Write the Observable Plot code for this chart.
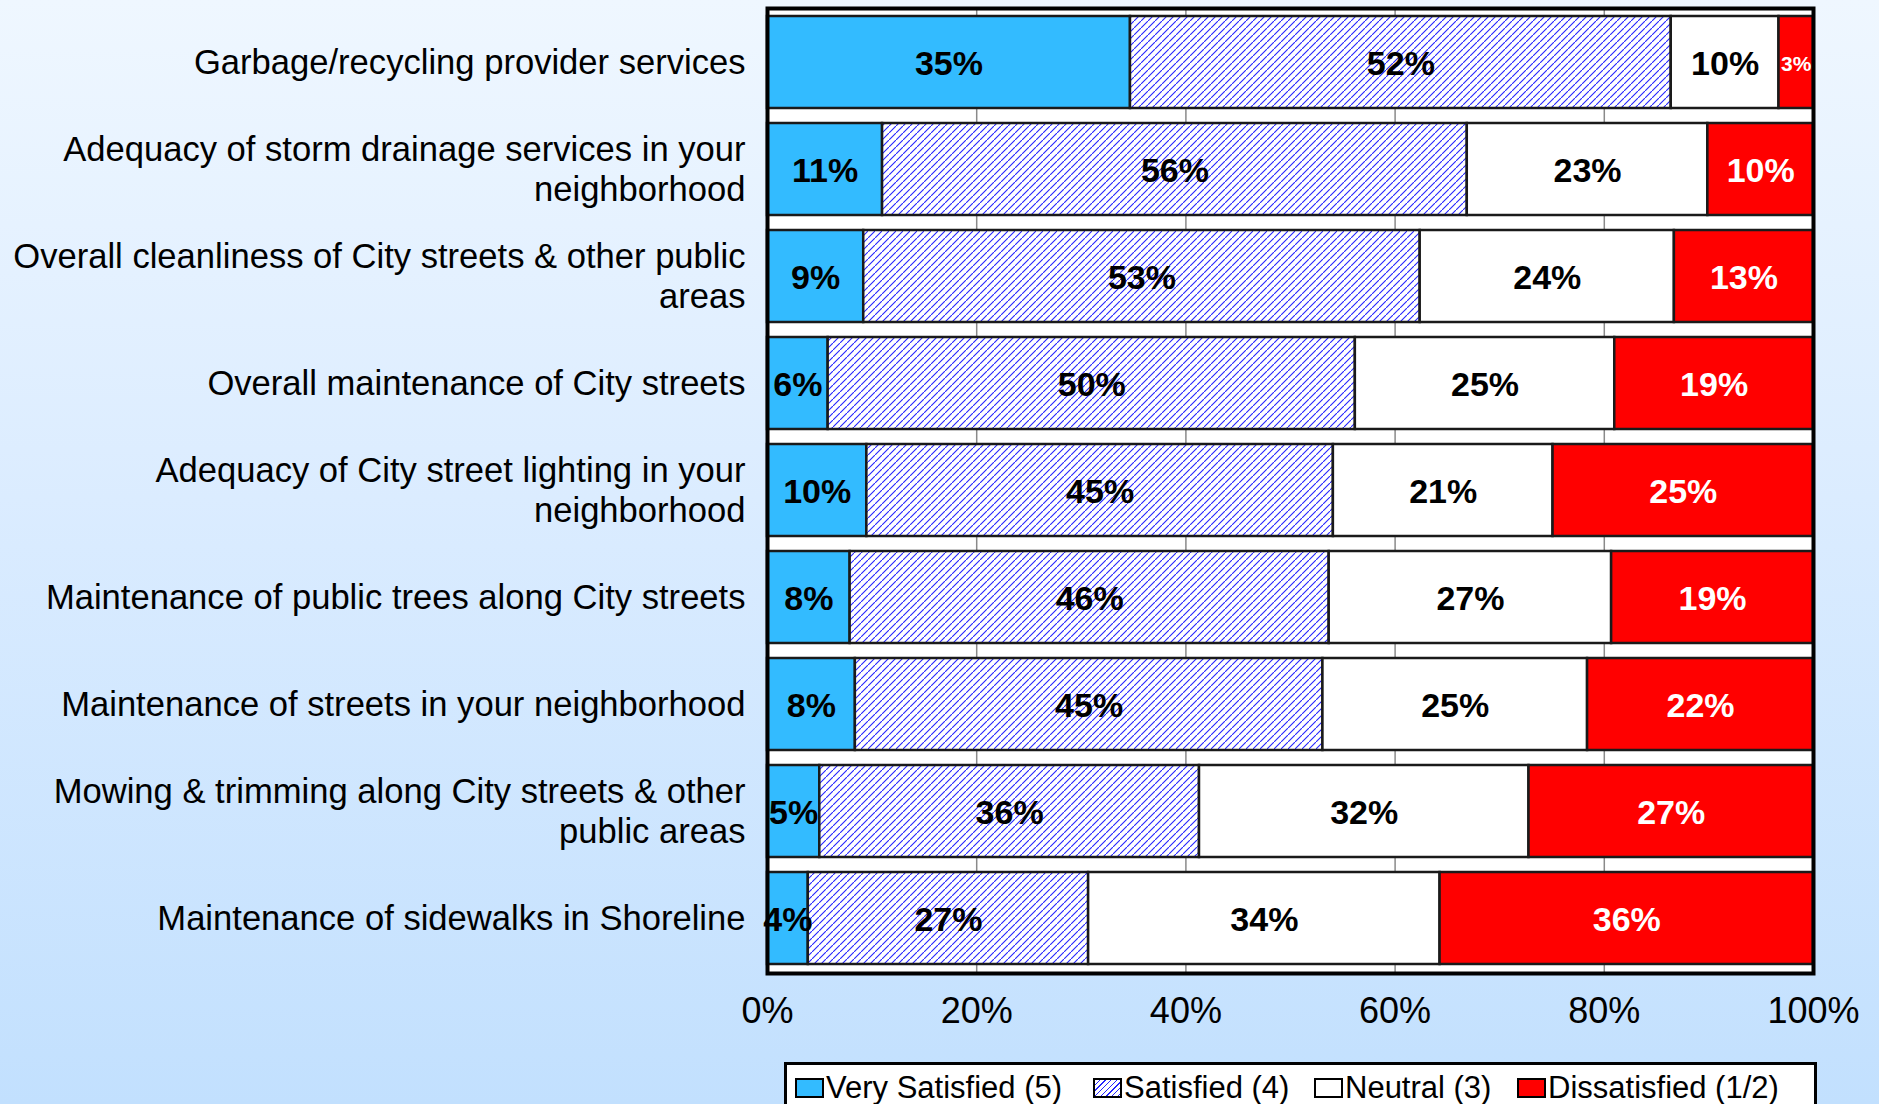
<!DOCTYPE html>
<html>
<head>
<meta charset="utf-8">
<script src="https://cdn.jsdelivr.net/npm/d3@7"></script>
<script src="https://cdn.jsdelivr.net/npm/@observablehq/plot@0.6"></script>
<style>
  html, body { margin: 0; padding: 0; }
  body {
    width: 1879px; height: 1104px; overflow: hidden; position: relative;
    background: linear-gradient(to bottom, #eff7ff 0%, #dbecff 45%, #c2e0fe 100%);
    font-family: "Liberation Sans", Arial, sans-serif;
  }
  #chart { position: absolute; left: 0; top: 0; }
  #legend {
    position: absolute; left: 784px; top: 1062px; width: 1027px; height: 60px;
    background: white; border: 3px solid black; box-sizing: content-box;
    font-size: 31px; line-height: 34px; color: black;
  }
  .item { position: absolute; top: 6px; display: flex; align-items: center; white-space: nowrap; }
  .sw { width: 25px; height: 16px; border: 2px solid black; margin-right: 2px; }
</style>
</head>
<body>
<div id="chart"></div>
<div id="legend"></div>
<script>
const categories = [
  "Garbage/recycling provider services",
  "Adequacy of storm drainage services in your\nneighborhood",
  "Overall cleanliness of City streets & other public\nareas",
  "Overall maintenance of City streets",
  "Adequacy of City street lighting in your\nneighborhood",
  "Maintenance of public trees along City streets",
  "Maintenance of streets in your neighborhood",
  "Mowing & trimming along City streets & other\npublic areas",
  "Maintenance of sidewalks in Shoreline"
];
const seriesNames = ["Very Satisfied (5)", "Satisfied (4)", "Neutral (3)", "Dissatisfied (1/2)"];
const verySatisfied = [34.7, 11.0, 9.2, 5.8, 9.5, 7.9, 8.4, 5.0, 3.9];
const satisfied     = [51.7, 55.9, 53.2, 50.4, 44.6, 45.8, 44.7, 36.3, 26.8];
const neutral       = [10.3, 23.0, 24.3, 24.8, 21.0, 27.0, 25.3, 31.5, 33.6];
const dissatisfied  = [3.3, 10.1, 13.3, 19.0, 24.9, 19.3, 21.6, 27.2, 35.7];
const xTicks = [0, 20, 40, 60, 80, 100];

const seriesValues = [verySatisfied, satisfied, neutral, dissatisfied];
const fills = ["#33bbff", "url(#hatch)", "#ffffff", "#ff0000"];
const textFills = ["black", "black", "black", "white"];

const rows = [];
categories.forEach((c, i) => {
  let acc = 0;
  seriesValues.forEach((vals, j) => {
    const v = vals[i];
    rows.push({cat: c, series: seriesNames[j], idx: j, v, x1: acc, x2: acc + v, mid: acc + v / 2});
    acc += v;
  });
});

const marks = [
  Plot.frame({fill: "white", stroke: null}),
  Plot.ruleX(xTicks.filter(d => d > 0 && d < 100), {stroke: "#8a8a8a", strokeWidth: 1.5}),
];
seriesNames.forEach((s, j) => {
  marks.push(Plot.barX(rows.filter(r => r.idx === j), {
    x1: "x1", x2: "x2", y: "cat", fill: fills[j], stroke: "#1a1a1a", strokeWidth: 2.5
  }));
});
seriesNames.forEach((s, j) => {
  marks.push(Plot.text(rows.filter(r => r.idx === j), {
    x: "mid", y: "cat", text: d => Math.round(d.v) + "%",
    fill: textFills[j], fontWeight: "bold", dy: 2,
    fontSize: d => d.v < 3.5 ? 21 : 34
  }));
});
marks.push(Plot.frame({stroke: "black", strokeWidth: 4}));
marks.push(Plot.axisX({
  ticks: xTicks, tickSize: 0, tickPadding: 24, fontSize: 36,
  tickFormat: d => d + "%", label: null
}));
marks.push(Plot.axisY({
  tickSize: 0, tickPadding: 22, fontSize: 34.6, lineHeight: 1.14, dy: -1, label: null
}));

const chart = Plot.plot({
  width: 1879,
  height: 1058,
  marginLeft: 767,
  marginRight: 66,
  marginTop: 8,
  marginBottom: 85,
  style: {background: "transparent", fontFamily: "'Liberation Sans', Arial, sans-serif", color: "black", overflow: "visible"},
  x: {domain: [0, 100], label: null},
  y: {domain: categories, paddingInner: 0.14, paddingOuter: 0.07, label: null},
  marks
});

const ns = "http://www.w3.org/2000/svg";
const defs = document.createElementNS(ns, "defs");
defs.innerHTML = `<pattern id="hatch" patternUnits="userSpaceOnUse" width="7" height="7">
  <rect width="7" height="7" fill="white"/>
  <path d="M-1,8 L8,-1 M-2,1 L1,-2 M6,9 L9,6" stroke="#2525ff" stroke-width="1.1"/>
</pattern>`;
chart.insertBefore(defs, chart.firstChild);
document.getElementById("chart").appendChild(chart);

const legendBg = ["#33bbff", "repeating-linear-gradient(135deg, #ffffff 0 3px, #2525ff 3px 4px)", "#ffffff", "#ff0000"];
const legendLeft = [8, 306, 527, 730];
const legend = document.getElementById("legend");
seriesNames.forEach((s, j) => {
  const it = document.createElement("div");
  it.className = "item";
  it.style.left = legendLeft[j] + "px";
  const sw = document.createElement("div");
  sw.className = "sw";
  sw.style.background = legendBg[j];
  const tx = document.createElement("span");
  tx.textContent = s;
  it.appendChild(sw); it.appendChild(tx);
  legend.appendChild(it);
});
</script>
</body>
</html>
